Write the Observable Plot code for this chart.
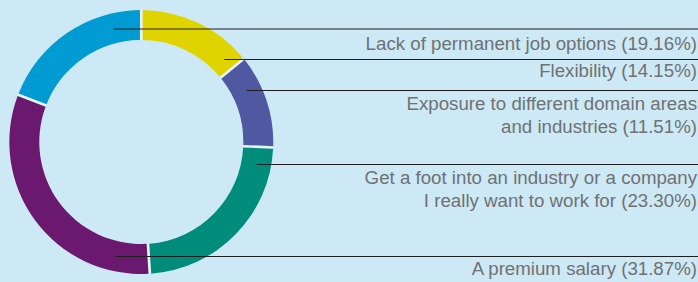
<!DOCTYPE html>
<html>
<head>
<meta charset="utf-8">
<script src="https://cdn.jsdelivr.net/npm/d3@7"></script>
<script src="https://cdn.jsdelivr.net/npm/@observablehq/plot@0.6"></script>
<style>
  html, body { margin: 0; padding: 0; background: #cce9f5; }
  #chart svg { display: block; }
</style>
</head>
<body>
<div id="chart"></div>
<script>
// ---- Data (clockwise from 12 o'clock) ----
const categories = [
  "Flexibility",
  "Exposure to different domain areas and industries",
  "Get a foot into an industry or a company I really want to work for",
  "A premium salary",
  "Lack of permanent job options"
];
const shares = [14.15, 11.51, 23.30, 31.87, 19.16];
const labels = [
  "Flexibility (14.15%)",
  "Exposure to different domain areas\nand industries (11.51%)",
  "Get a foot into an industry or a company\nI really want to work for (23.30%)",
  "A premium salary (31.87%)",
  "Lack of permanent job options (19.16%)"
];
const colors = ["#e0d400", "#4f59a1", "#008c7a", "#6b196f", "#009bd3"];

// ---- Layout (pixels) ----
const W = 698, H = 282;
const cx = 141.3, cy = 142, rOuter = 132, rInner = 102;
const rMid = (rOuter + rInner) / 2;
const leaderY = [59, 90, 164, 256, 28.5];      // y of each leader line
const labelBaseline = [76, 132.5, 206, 274, 49.5]; // baseline of each label's last line
const lineHeight = 1.23;

const pie = d3.pie().sort(null).value(d => d)(shares);

const rows = categories.map((c, i) => {
  const a = (pie[i].startAngle + pie[i].endAngle) / 2;
  const side = Math.sin(a) >= 0 ? 1 : -1;
  const dy = leaderY[i] - cy;
  const x1 = cx + side * Math.sqrt(Math.max(0, rMid * rMid - dy * dy));
  return {category: c, share: shares[i], label: labels[i], color: colors[i],
          x1, x2: W, y: leaderY[i], ty: labelBaseline[i]};
});

function donut(index, scales, values, dimensions, context) {
  const {x, y} = scales;
  const X = x(cx), Y = y(cy);
  const ro = x(cx + rOuter) - X, ri = x(cx + rInner) - X;
  const g = d3.create("svg:g").attr("transform", `translate(${X},${Y})`);
  // lighter ring shows through the gaps between slices
  g.append("path")
    .attr("d", d3.arc().innerRadius(ri).outerRadius(ro).startAngle(0).endAngle(2 * Math.PI)())
    .attr("fill", "#e8f5fb");
  const arc = d3.arc().innerRadius(ri).outerRadius(ro).padAngle(0.016);
  g.selectAll("path.slice").data(pie).join("path")
    .attr("class", "slice")
    .attr("d", arc)
    .attr("fill", (d, i) => colors[i]);
  return g.node();
}

const chart = Plot.plot({
  width: W,
  height: H,
  margin: 0,
  x: {domain: [0, W], range: [0, W], axis: null},
  y: {domain: [0, H], range: [0, H], axis: null},
  style: {background: "#cce9f5", overflow: "visible"},
  marks: [
    donut,
    Plot.link(rows, {x1: "x1", x2: "x2", y1: "y", y2: "y", stroke: "#1e1e1e", strokeWidth: 1.1}),
    Plot.text(rows, {
      x: W - 1.5, y: "ty", text: "label",
      textAnchor: "end", lineAnchor: "bottom", lineHeight,
      fontSize: 18.7, fontFamily: "Liberation Sans, Arial, sans-serif",
      fill: "#707173"
    })
  ]
});
document.getElementById("chart").appendChild(chart);
</script>
</body>
</html>
